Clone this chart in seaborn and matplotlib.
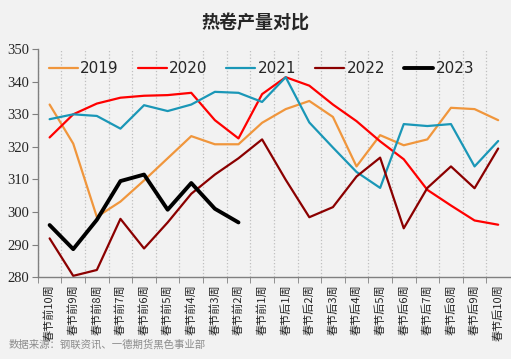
import numpy as np
import pandas as pd
import matplotlib
matplotlib.use('Agg')
import matplotlib.pyplot as plt
import seaborn as sns

sns.set_style('ticks')
plt.rcParams['font.family'] = ['Noto Sans CJK SC', 'DejaVu Sans']

# 数据
weeks = ['春节前10周', '春节前9周', '春节前8周', '春节前7周', '春节前6周',
         '春节前5周', '春节前4周', '春节前3周', '春节前2周', '春节前1周',
         '春节后1周', '春节后2周', '春节后3周', '春节后4周', '春节后5周',
         '春节后6周', '春节后7周', '春节后8周', '春节后9周', '春节后10周']
y2019 = [333.0, 321.0, 298.5, 303.2, 309.7, 316.5, 323.3, 320.8, 320.8, 327.4,
         331.6, 334.1, 329.2, 314.0, 323.6, 320.5, 322.3, 332.0, 331.6, 328.2]
y2020 = [322.9, 330.0, 333.3, 335.1, 335.7, 335.9, 336.6, 328.2, 322.6, 336.2,
         341.4, 338.8, 333.0, 327.9, 321.7, 316.2, 306.8, 302.0, 297.4, 296.1]
y2021 = [328.5, 330.0, 329.5, 325.6, 332.8, 331.0, 333.0, 336.9, 336.6, 333.8,
         341.4, 327.5, 319.8, 312.3, 307.4, 327.0, 326.4, 327.0, 314.0, 321.8]
y2022 = [291.9, 280.4, 282.2, 297.9, 288.8, 296.8, 305.6, 311.5, 316.5, 322.3,
         309.9, 298.4, 301.5, 310.9, 316.7, 295.0, 307.4, 314.0, 307.3, 319.5]
y2023 = [296.0, 288.6, 297.6, 309.5, 311.5, 300.7, 308.9, 301.0, 296.8]

series = {'2019': y2019, '2020': y2020, '2021': y2021, '2022': y2022, '2023': y2023}
colors = {'2019': '#F0963C', '2020': '#FF0000', '2021': '#1A97B7',
          '2022': '#8B0000', '2023': '#000000'}
widths = {'2019': 1.6, '2020': 1.6, '2021': 1.6, '2022': 1.6, '2023': 2.8}

rows = []
for yr, vals in series.items():
    for i, v in enumerate(vals):
        rows.append({'pos': i, 'week': weeks[i], 'year': yr, 'value': v})
df = pd.DataFrame(rows)

bg = '#F2F2F2'
fig = plt.figure(figsize=(5.11, 3.59), dpi=100, facecolor=bg)
ax = fig.add_axes([0.074, 0.228, 0.924, 0.635])
ax.set_facecolor(bg)

for yr in series:
    sub = df[df['year'] == yr]
    sns.lineplot(data=sub, x='pos', y='value', color=colors[yr], lw=widths[yr],
                 label=yr, ax=ax)

ax.set_xlim(-0.5, 19.5)
ax.set_ylim(280, 350)
ax.set_yticks(np.arange(280, 351, 10))
ax.set_yticklabels([str(v) for v in range(280, 351, 10)],
                   family='Liberation Serif', fontsize=10.5)

ax.set_xticks(np.arange(20))
ax.set_xticklabels(weeks, rotation=90, fontsize=8, va='top')
ax.set_xticks(np.arange(-0.5, 19.0, 1), minor=True)
ax.tick_params(axis='x', which='major', length=0, pad=5)
ax.tick_params(axis='x', which='minor', length=4, color='#808080')
ax.tick_params(axis='y', length=4, color='#808080', pad=2)
ax.grid(axis='x', which='minor', color='#BFBFBF', linestyle=':', lw=0.9)
ax.set_xlabel('')
ax.set_ylabel('')

sns.despine(ax=ax)
for s in ['left', 'bottom']:
    ax.spines[s].set_color('#808080')
    ax.spines[s].set_linewidth(1)

leg = ax.legend(loc='center left', bbox_to_anchor=(0.0, 0.915), ncol=5, frameon=False,
                handlelength=1.9, handletextpad=0.15, columnspacing=1.25,
                borderaxespad=0.3, prop={'family': 'DejaVu Sans', 'size': 11})

fig.text(0.5, 0.935, '热卷产量对比', ha='center', va='center', fontsize=13, fontweight='bold')
fig.text(0.016, 0.040, '数据来源：钢联资讯、一德期货黑色事业部', ha='left', va='center',
         fontsize=7.5, color='#8C8C8C')

plt.savefig('out.png', dpi=100, facecolor=bg)
